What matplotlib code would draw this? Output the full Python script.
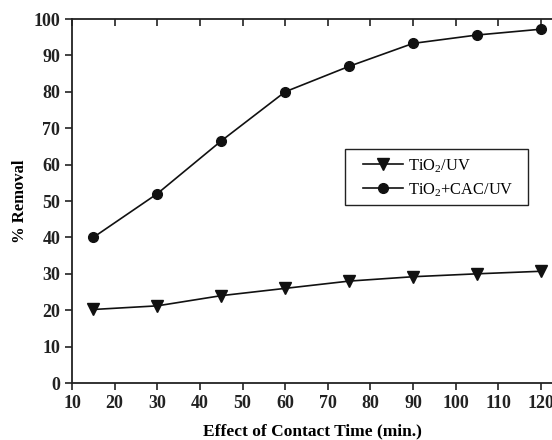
import matplotlib
matplotlib.use("Agg")
import matplotlib.pyplot as plt
from matplotlib.patches import Rectangle

plt.rcParams['font.family'] = ['Liberation Serif', 'DejaVu Serif']
plt.rcParams['mathtext.fontset'] = 'custom'
plt.rcParams['mathtext.rm'] = 'Liberation Serif'

time_min = [15, 30, 45, 60, 75, 90, 105, 120]
tio2_uv = [20.2, 21.2, 24.0, 26.0, 28.0, 29.2, 30.0, 30.7]
tio2_cac_uv = [40.0, 52.0, 66.5, 80.0, 87.0, 93.3, 95.6, 97.2]

fig = plt.figure(figsize=(5.52, 4.40), dpi=100)
ax = fig.add_axes([0.1304, 0.1295, 0.8696, 0.8273])

ax.plot(time_min, tio2_uv, color='#111111', lw=1.2, marker='v', ms=8,
        label='TiO$_2$/UV')
ax.plot(time_min, tio2_cac_uv, color='#111111', lw=1.2, marker='o', ms=7,
        label='TiO$_2$+CAC/UV')

ax.set_xlim(10, 122.6)
ax.set_ylim(0, 100)
ax.set_xticks(range(10, 121, 10))
ax.set_yticks(range(0, 101, 10))
ax.spines['right'].set_visible(False)
for s in ['left', 'bottom', 'top']:
    ax.spines[s].set_linewidth(1.3)
    ax.spines[s].set_color('#222222')
ax.tick_params(axis='both', direction='out', length=5, width=1.2,
               labelsize=13, colors='#222222')
ax.xaxis.set_tick_params(which='major', top=True)
for t in ax.xaxis.get_ticklines()[1::2]:
    t.set_marker(3)
for lab in ax.get_xticklabels() + ax.get_yticklabels():
    lab.set_fontweight('bold')

ax.set_xlabel('Effect of Contact Time (min.)', fontsize=12.5, fontweight='bold',
              labelpad=8)
ax.set_ylabel('% Removal', fontsize=12, fontweight='bold', labelpad=4)

# legend box drawn separately to get the wide side padding
ax.add_patch(Rectangle((0.569, 0.489), 0.381, 0.154, transform=ax.transAxes,
                       facecolor='white', edgecolor='#222222', lw=1.0,
                       zorder=4))
leg = ax.legend(loc='upper left', bbox_to_anchor=(0.606, 0.621), fontsize=11.8,
                frameon=False, handlelength=2.44, handletextpad=0.3,
                borderpad=0, labelspacing=0.4, borderaxespad=0)
leg.set_zorder(5)

fig.savefig('out.png', dpi=100)
